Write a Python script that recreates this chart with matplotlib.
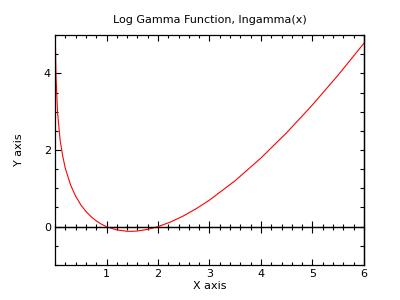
from matplotlib import pyplot as plt
import matplotlib.ticker as tck
import numpy as np

# values
x_vals = [0.0067, 0.01, 0.02, 0.05, 0.1, 0.15, 0.2, 0.3, 0.4, 0.5, 0.6, 0.7, 0.8, 0.9,
          1.0, 1.2, 1.4, 1.5, 1.6, 1.8, 2.0, 2.25, 2.5, 2.75, 3.0, 3.5, 4.0, 4.5,
          5.0, 5.5, 6.0]
y_vals = [4.995, 4.600, 3.901, 2.970, 2.253, 1.839, 1.524, 1.096, 0.797, 0.572, 0.398,
          0.261, 0.152, 0.066, 0.0, -0.085, -0.120, -0.121, -0.113, -0.071, 0.0,
          0.125, 0.285, 0.475, 0.693, 1.201, 1.792, 2.454, 3.178, 3.958, 4.787]

title = 'Log Gamma Function, lngamma(x)'
FS = 8

fig = plt.figure(figsize=(4, 3), dpi=100)
ax = fig.add_axes([0.1375, 0.1167, 0.7725, 0.7666])

ax.plot(x_vals, y_vals, color='red', lw=0.8, clip_on=True)
ax.axhline(0, color='black', lw=0.9)

ax.set_xlim(0, 6)
ax.set_ylim(-1, 5)

ax.xaxis.set_major_locator(tck.FixedLocator([1, 2, 3, 4, 5, 6]))
ax.xaxis.set_minor_locator(tck.MultipleLocator(0.2))
ax.yaxis.set_major_locator(tck.FixedLocator([0, 2, 4]))
ax.yaxis.set_minor_locator(tck.MultipleLocator(0.5))

ax.tick_params(which='both', direction='in', top=True, right=False,
               labelsize=FS, width=0.8, pad=3)
ax.tick_params(which='major', length=4.3)
ax.tick_params(which='minor', length=2.2)

# right side ticks, every 0.5
ax_r = ax.secondary_yaxis('right')
ax_r.yaxis.set_major_locator(tck.MultipleLocator(0.5))
ax_r.tick_params(direction='in', length=2.8, width=0.8, labelright=False)

# ticks crossing the zero line
ax_z = ax.secondary_xaxis(1/6)
ax_z.xaxis.set_major_locator(tck.FixedLocator([1, 2, 3, 4, 5]))
ax_z.xaxis.set_minor_locator(tck.MultipleLocator(0.2))
ax_z.tick_params(which='both', direction='inout', labelbottom=False, width=0.8)
ax_z.tick_params(which='major', length=8)
ax_z.tick_params(which='minor', length=5)
ax_z.spines['bottom'].set_linewidth(0.9)

for s in ax.spines.values():
    s.set_linewidth(0.9)
ax_r.spines['right'].set_linewidth(0.9)

ax.set_title(title, fontsize=FS, pad=9)
ax.set_xlabel('X axis', fontsize=FS, labelpad=1)
ax.set_ylabel('Y axis', fontsize=FS, labelpad=14)

fig.savefig('out.png', dpi=100)
